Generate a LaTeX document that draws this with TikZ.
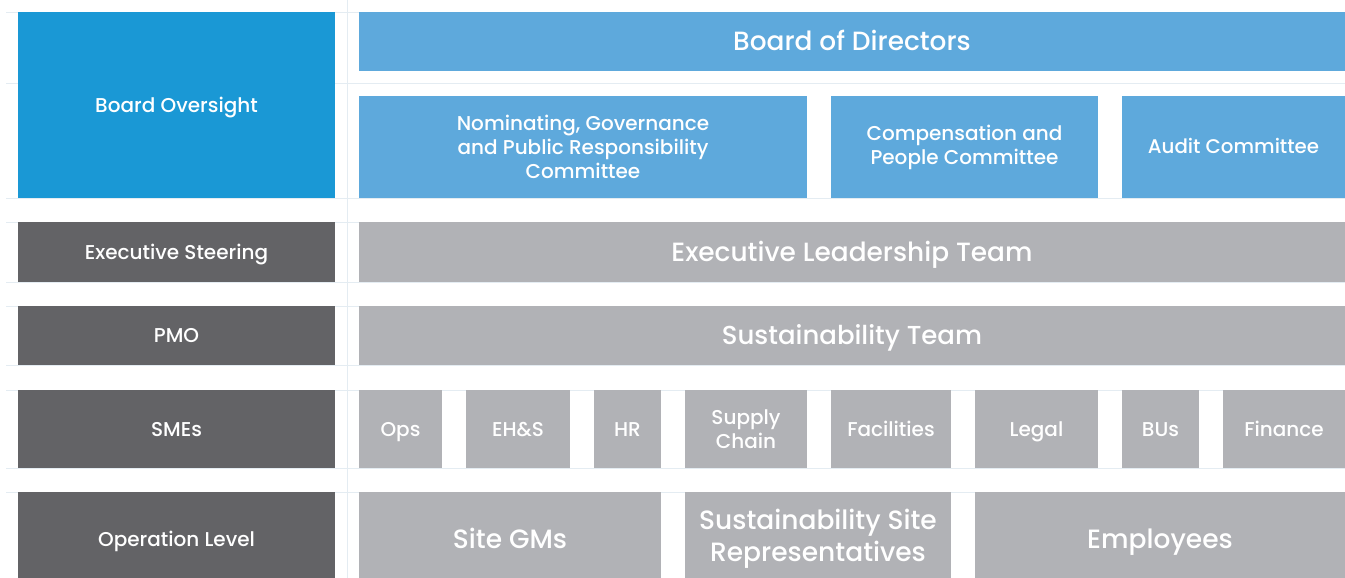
\documentclass[tikz,border=0pt]{standalone}
\usepackage{fontspec}
\setmainfont{Poppins Medium}
\definecolor{oversight}{HTML}{1A98D5}
\definecolor{boardblue}{HTML}{5EA9DC}
\definecolor{levelgray}{HTML}{636366}
\definecolor{unitgray}{HTML}{B1B2B6}
\definecolor{gridline}{HTML}{E4ECF2}
\tikzset{
  cell/.style={rectangle,inner sep=0pt,text=white,align=center,font=\fontsize{#1}{1.2\dimexpr#1pt\relax}\selectfont},
  caps/.style={text height=0.7*#1pt,text depth=0pt},
  levelbox/.style={cell=20,caps=20,fill=levelgray},
  boardbox/.style={cell=#1,fill=boardblue},
  unitbox/.style={cell=#1,fill=unitgray},
}
% box from (x1,y1) to (x2,y2), in pixels from the top left
\newcommand{\cellbox}[7]{%
  \node[#6,minimum width={#4-#2},minimum height={#5-#3}] (#1)
    at ({(#2+#4)/2},{(#3+#5)/2}) {#7};}
\begin{document}
\begin{tikzpicture}[x=1pt,y=-1pt]
    \useasboundingbox[fill=white] (0,0) rectangle (1345,578);
    % faint table rules
    \foreach \y in {12,83,198,222,282,306,365,390,468,492}
      \draw[gridline,line width=0.8] (6,\y) -- (1345,\y);
    \draw[gridline,line width=0.8] (347,0) -- (347,578);
    % board level
    \cellbox{oversight}{18}{12}{335}{198}{levelbox,fill=oversight}{Board Oversight}
    \cellbox{directors}{359}{12}{1345}{71}{boardbox=26.4,caps=26.4}{Board of Directors}
    \cellbox{nominating}{359}{96}{807}{198}{boardbox=20}{Nominating, Governance\\and Public Responsibility\\Committee}
    \cellbox{compensation}{831}{96}{1098}{198}{boardbox=20}{Compensation and\\People Committee}
    \cellbox{audit}{1122}{96}{1345}{198}{boardbox=19.8,caps=19.8}{Audit Committee}
    % executive and PMO
    \cellbox{steering}{18}{222}{335}{282}{levelbox}{Executive Steering}
    \cellbox{leadership}{359}{222}{1345}{282}{unitbox=26.4,caps=26.4}{Executive Leadership Team}
    \cellbox{pmo}{18}{306}{335}{365}{levelbox}{PMO}
    \cellbox{sustain}{359}{306}{1345}{365}{unitbox=26,caps=26}{Sustainability Team}
    % subject matter experts
    \cellbox{smes}{18}{390}{335}{468}{levelbox}{SMEs}
    \cellbox{ops}{359}{390}{442}{468}{unitbox=20,caps=20}{Ops}
    \cellbox{ehs}{466}{390}{570}{468}{unitbox=20,caps=20}{EH\&S}
    \cellbox{hr}{594}{390}{661}{468}{unitbox=20,caps=20}{HR}
    \cellbox{supply}{685}{390}{807}{468}{unitbox=20}{Supply\\Chain}
    \cellbox{facilities}{831}{390}{951}{468}{unitbox=20,caps=20}{Facilities}
    \cellbox{legal}{975}{390}{1098}{468}{unitbox=20,caps=20}{Legal}
    \cellbox{bus}{1122}{390}{1199}{468}{unitbox=20,caps=20}{BUs}
    \cellbox{finance}{1223}{390}{1345}{468}{unitbox=20,caps=20}{Finance}
    % operation level (runs past the bottom edge)
    \cellbox{operation}{18}{492}{335}{586}{levelbox}{Operation Level}
    \cellbox{sitegms}{359}{492}{661}{586}{unitbox=26.5,caps=26.5}{Site GMs}
    \cellbox{siterep}{685}{492}{951}{586}{unitbox=26.5}{Sustainability Site\\Representatives}
    \cellbox{employees}{975}{492}{1345}{586}{unitbox=26.5,caps=26.5}{Employees}
  \end{tikzpicture}
\end{document}
